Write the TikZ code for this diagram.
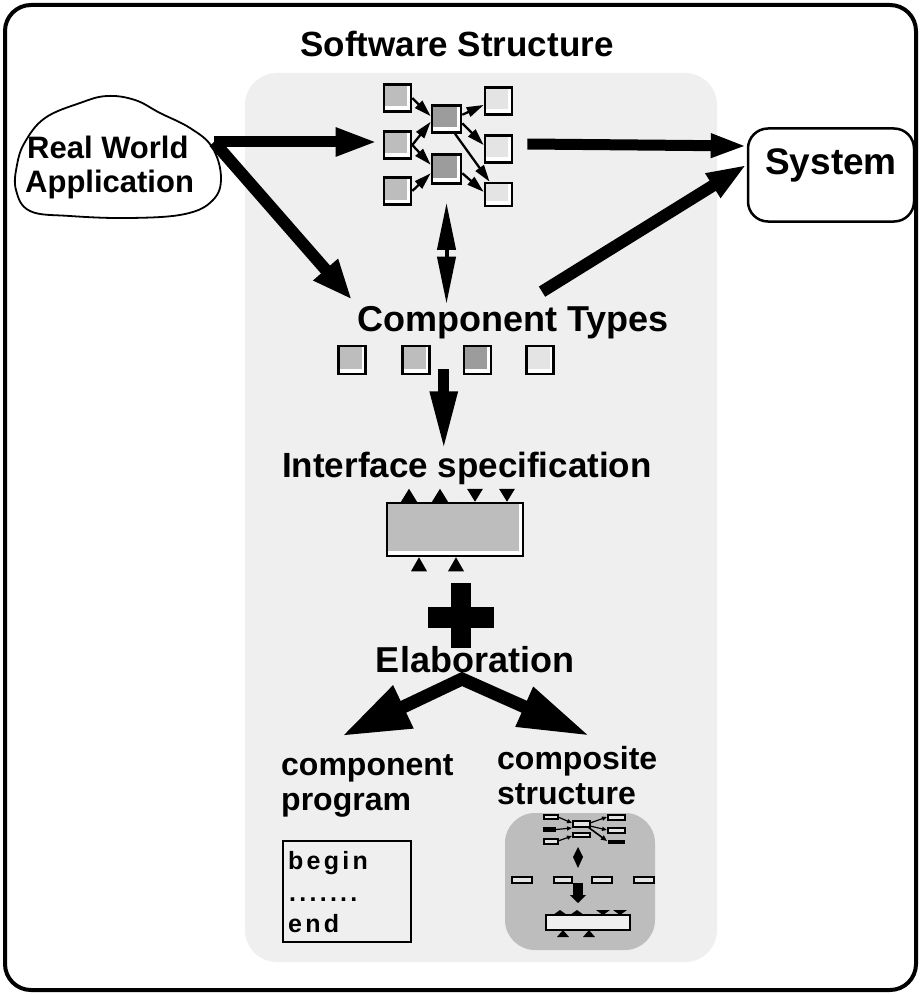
\documentclass[tikz,border=0pt]{standalone}
\usepackage{fontspec}
\setmainfont{Liberation Sans}
\newfontfamily\codefont[LetterSpace=13]{Liberation Sans}
\usetikzlibrary{arrows.meta,calc}

\definecolor{panelgray}{HTML}{EFEFEF}
\definecolor{fillmid}{HTML}{BDBDBD}
\definecolor{filldark}{HTML}{9C9C9C}
\definecolor{filllight}{HTML}{E4E4E4}

\tikzset{
  txt/.style={inner sep=0pt, anchor=base, font=\bfseries\fontsize{#1}{#1}\selectfont},
  txt/.default=35,
  insetfill/.style={path picture={\fill[#1]
      ([shift={(1pt,-1pt)}]path picture bounding box.north west)
      rectangle ([shift={(-4pt,5pt)}]path picture bounding box.south east);}},
  modbox/.style={draw, line width=2.6pt, fill=white, inner sep=0pt,
    minimum width=27pt, minimum height=27pt, insetfill=#1},
  thinarrow/.style={line width=2.3pt, -{Triangle[length=17pt,width=10pt]}},
  codetxt/.style={inner sep=0pt, anchor=base west, font=\codefont\bfseries\fontsize{25}{25}\selectfont},
  minibox/.style={draw, line width=1.5pt, fill=filllight},
}

\begin{document}
\begin{tikzpicture}[x=1pt,y=-1pt]
\useasboundingbox (0,0) rectangle (921,995);

% outer frame and the shaded panel
\draw[line width=4pt, rounded corners=26pt, fill=white] (5,5) rectangle (916,990);
\fill[panelgray, rounded corners=32pt] (245,73) rectangle (717,962);

\node[txt=35] (title) at (457,57) {Software Structure};

% real world cloud
\draw[line width=1.8pt] plot[smooth cycle, tension=0.65] coordinates {
  (25,142) (45,118) (80,103) (107,96) (135,100) (160,113) (190,128)
  (212,147) (221,177) (213,200) (185,214) (130,218) (70,216) (30,211)
  (16,190) (17,165)};
\node[txt=31, anchor=base west] (rw1) at (27,159) {Real World};
\node[txt=31, anchor=base west] (rw2) at (25,193) {Application};
\coordinate (rwout) at (214,142);

% system
\node[draw, line width=2.5pt, rounded corners=20pt, minimum width=166pt,
  minimum height=93pt, inner sep=0pt, text height=20pt, text depth=20pt,
  font=\bfseries\fontsize{37}{37}\selectfont] (sys) at (831,175) {System};

% module structure
\node[modbox=fillmid] (l1) at (397.5,98) {};
\node[modbox=fillmid] (l2) at (397.5,145) {};
\node[modbox=fillmid] (l3) at (397.5,191) {};
\node[modbox=filldark, minimum width=29pt] (m1) at (446.5,119) {};
\node[modbox=filldark, minimum width=29pt, minimum height=29pt] (m2) at (446.5,169) {};
\node[modbox=filllight] (r1) at (498.5,101) {};
\node[modbox=filllight] (r2) at (498.5,149) {};
\node[modbox=filllight, minimum height=23pt] (r3) at (498.5,194.5) {};

\draw[thinarrow] (l1.east) -- (m1.170);
\draw[thinarrow] (l2.east) -- (m1.190);
\draw[thinarrow] (l2.east) -- (m2.165);
\draw[thinarrow] (l3.east) -- (m2.195);
\draw[thinarrow] (m1.15) -- (r1.195);
\draw[thinarrow] (m1.345) -- (r2.165);
\draw[thinarrow] (m1.300) -- (r3.125);
\draw[thinarrow] (m2.345) -- (r3.170);

% component types
\node[txt=36] (ct) at (513,331) {Component Types};
\node[modbox=fillmid, minimum height=28pt] (c1) at (352,360) {};
\node[modbox=fillmid, minimum height=28pt] (c2) at (416,360) {};
\node[modbox=filldark, minimum height=28pt] (c3) at (477.5,360) {};
\node[modbox=filllight, minimum height=28pt] (c4) at (540,360) {};

% heavy connectors
\draw[line width=11pt, -{Triangle[length=42pt,width=26pt]}, shorten >=5pt]
  (rwout) -- (rwout -| l2.west);
\draw[line width=12pt, -{Triangle[length=40pt,width=30pt]}, shorten >=8pt]
  (rwout) -- (ct.north west);
\draw[line width=11pt, -{Triangle[length=36pt,width=22pt]}]
  ([xshift=14pt,yshift=5pt]r2.east) -- (sys.161);
\draw[line width=12pt, -{Triangle[length=40pt,width=26pt]}]
  ([xshift=29pt,yshift=14pt]ct.north) -- (sys.173);
\draw[line width=4pt, {Triangle[length=47pt,width=18pt]}-{Triangle[length=47pt,width=18pt]},
  shorten <=18pt, shorten >=2pt] (m2.south) -- (m2.south |- ct.north);

% interface specification
\node[txt=35] (is) at (467,477) {Interface specification};
\coordinate (ctdown) at ($(c2.south east)!0.5!(c3.south west)+(-3,-6)$);
\draw[line width=11pt, -{Triangle[length=60pt,width=25pt]}]
  (ctdown) -- (ctdown |- is.north);

\node[draw, line width=2.5pt, fill=white, minimum width=136pt, minimum height=53pt,
  inner sep=0pt, insetfill=fillmid] (ib) at (455,529.5) {};
\foreach \dx in {-46,-15}
  \fill ([xshift=\dx pt]ib.north) ++(-8,0) -- ++(16,0) -- ++(-8,-13) -- cycle;
\foreach \dx in {20,52}
  \fill ([xshift=\dx pt]ib.north) ++(-8,-13) -- ++(16,0) -- ++(-8,13) -- cycle;
\foreach \dx in {-36,1}
  \fill ([xshift=\dx pt]ib.south) ++(-8,14) -- ++(16,0) -- ++(-8,-14) -- cycle;

% plus sign
\fill (451,583) rectangle (471,648);
\fill (428,607) rectangle (494,628);

% elaboration
\node[txt=36] (elab) at (475,672) {Elaboration};
\coordinate (apex) at ([xshift=-13pt,yshift=-7pt]elab.base);
\coordinate (progtip) at (342,736);
\coordinate (comptip) at (590,736);
\draw[line width=13pt, line join=miter,
  {Triangle[length=68pt,width=44pt]}-{Triangle[length=72pt,width=40pt]}]
  (progtip) -- (apex) -- (comptip);

\node[txt=32, anchor=base west] (cp1) at (281,775) {component};
\node[txt=32, anchor=base west] (cp2) at (281,810) {program};
\node[txt=32, anchor=base west] (cs1) at (497,769) {composite};
\node[txt=32, anchor=base west] (cs2) at (497,804) {structure};

% component program listing
\node[draw, line width=2.5pt, minimum width=128pt, minimum height=101pt,
  inner sep=0pt] (code) at (347,891.5) {};
\node[codetxt] (code1) at (288,869) {begin};
\node[codetxt] (code2) at (289,901) {.......};
\node[codetxt] (code3) at (288,932) {end};

% composite structure icon
\fill[fillmid, rounded corners=30pt] (505,813) rectangle (655,950);
\draw[minibox] (544,815) rectangle (558,819);
\fill (543,827) rectangle (556,832);
\draw[line width=1.2pt, -{Triangle[length=5pt,width=4pt]}] (556,829.5) -- (572,828);
\draw[minibox] (544,839) rectangle (558,844);
\draw[minibox] (573,821) rectangle (590,827);
\draw[minibox] (573,833) rectangle (590,837);
\draw[minibox] (608,815) rectangle (625,820);
\draw[minibox] (608,828) rectangle (625,833);
\fill (608,840) rectangle (625,844);
\draw[line width=1.2pt, -{Triangle[length=5pt,width=4pt]}] (558,817) -- (572,823);
\draw[line width=1.2pt, -{Triangle[length=5pt,width=4pt]}] (558,841) -- (572,836);
\draw[line width=1.2pt, -{Triangle[length=5pt,width=4pt]}] (590,823) -- (607,817);
\draw[line width=1.2pt, -{Triangle[length=5pt,width=4pt]}] (590,826) -- (607,830);
\draw[line width=1.6pt, -{Triangle[length=6pt,width=5pt]}] (588,827) -- (607,841);
\fill (578,847) -- (583,857) -- (578,868) -- (573,857) -- cycle;
\draw[minibox] (512,877) rectangle (532,883);
\draw[minibox] (554,877) rectangle (572,883);
\draw[minibox] (592,877) rectangle (612,883);
\draw[minibox] (634,877) rectangle (654,883);
\draw[line width=10pt, -{Triangle[length=8pt,width=16pt]}] (578,883) -- (578,903);
\draw[line width=1.6pt, fill=panelgray] (546,915) rectangle (630,930);
\foreach \x in {560,577}
  \fill (\x-7,915) -- (\x+7,915) -- (\x,910) -- cycle;
\foreach \x in {603,620}
  \fill (\x-7,910) -- (\x+7,910) -- (\x,915) -- cycle;
\foreach \x in {563,589}
  \fill (\x-6,937) -- (\x+6,937) -- (\x,930) -- cycle;
\end{tikzpicture}
\end{document}
